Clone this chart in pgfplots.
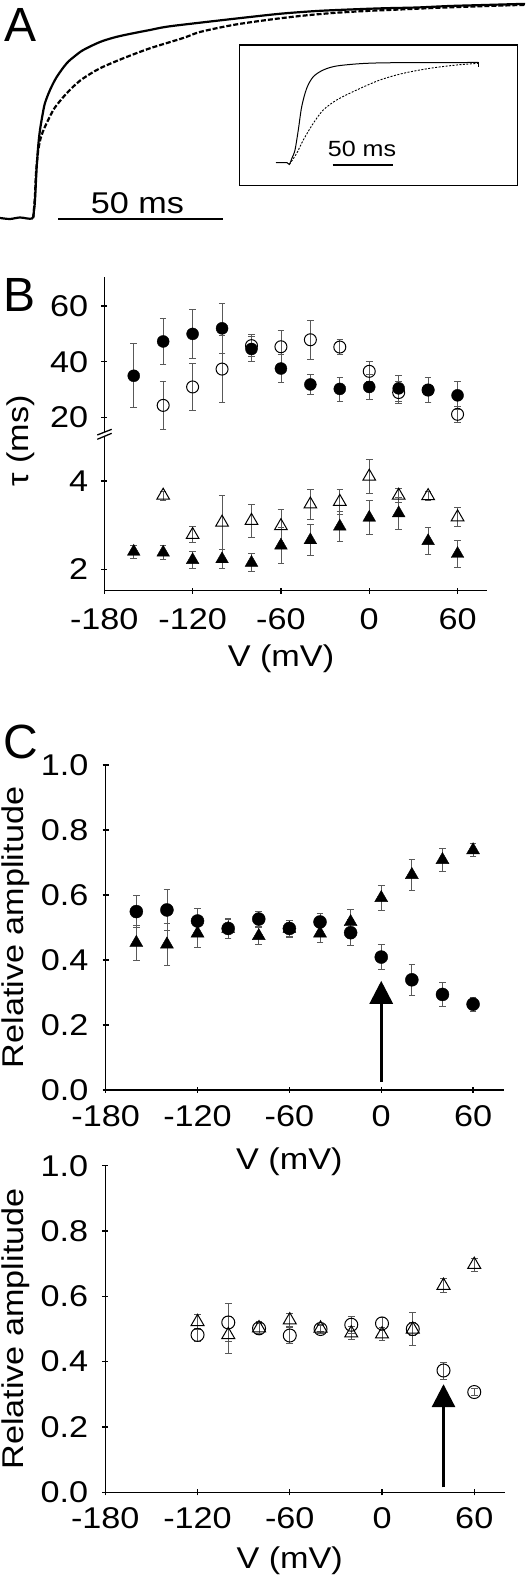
\documentclass[border=0pt]{standalone}
\usepackage{fontspec}
\setmainfont{Liberation Sans}[FakeStretch=1.14]
\newfontfamily\plainfont{Liberation Sans}
\usepackage{pgfplots}
\pgfplotsset{compat=1.18}
\usepackage{pgfplotstable}
\usetikzlibrary{arrows.meta}

\newcommand{\tickfont}{\fontsize{30}{36}\selectfont}
\newcommand{\labfont}{\fontsize{30}{36}\selectfont}
\newcommand{\panelfont}{\plainfont\fontsize{48}{56}\selectfont}

% Panel B, upper: filled circles / open circles
\pgfplotstableread{
v t e
-160 35.0 11.5
-140 47.3 8.2
-120 50.0 8.9
-100 52.0 9.0
-80 44.6 4.5
-60 37.6 5.0
-40 31.9 3.5
-20 30.3 4.3
0 31.0 4.4
20 30.5 4.5
40 29.9 4.5
60 28.0 5.0
}\Bfc
\pgfplotstableread{
v t e
-140 24.4 8.6
-120 31.0 8.5
-100 37.4 12.0
-80 45.8 4.0
-60 45.4 6.0
-40 47.9 7.0
-20 45.3 2.8
0 36.6 3.7
20 29.0 4.0
40 29.9 4.5
60 21.2 2.9
}\Boc
% Panel B, lower: filled / open triangles
\pgfplotstableread{
v t e
-160 2.40 0.15
-140 2.38 0.15
-120 2.21 0.20
-100 2.23 0.22
-80 2.15 0.20
-60 2.54 0.40
-40 2.66 0.35
-20 2.97 0.33
0 3.17 0.38
20 3.27 0.36
40 2.64 0.30
60 2.35 0.30
}\Bft
\pgfplotstableread{
v t e
-140 3.67 0.10
-120 2.78 0.18
-100 3.06 0.62
-80 3.10 0.37
-60 2.98 0.38
-40 3.47 0.33
-20 3.53 0.28
0 4.10 0.38
20 3.67 0.15
40 3.66 0.10
60 3.18 0.22
}\Bot
% Panel C, top
\pgfplotstableread{
v a e
-160 0.549 0.050
-140 0.554 0.063
-120 0.520 0.040
-100 0.497 0.030
-80 0.526 0.022
-60 0.497 0.025
-40 0.517 0.027
-20 0.484 0.040
0 0.409 0.038
20 0.339 0.047
40 0.294 0.038
60 0.264 0.022
}\Cc
\pgfplotstableread{
v a e
-160 0.453 0.053
-140 0.448 0.066
-120 0.482 0.043
-100 0.496 0.030
-80 0.474 0.025
-60 0.496 0.025
-40 0.482 0.027
-20 0.517 0.039
0 0.591 0.037
20 0.662 0.047
40 0.708 0.036
60 0.738 0.020
}\Ct
% Panel C, bottom
\pgfplotstableread{
v a e
-120 0.482 0.020
-100 0.520 0.057
-80 0.502 0.020
-60 0.480 0.025
-40 0.500 0.015
-20 0.513 0.025
0 0.517 0.020
20 0.500 0.050
40 0.373 0.026
60 0.307 0.010
}\Dc
\pgfplotstableread{
v a e
-120 0.522 0.022
-100 0.482 0.058
-80 0.503 0.015
-60 0.527 0.020
-40 0.502 0.010
-20 0.487 0.020
0 0.484 0.020
20 0.499 0.020
40 0.633 0.022
60 0.697 0.020
}\Dt

\pgfplotsset{
  base/.style={
    scale only axis, clip=false, enlargelimits=false,
    xmin=-180, xmax=80,
    tick style={line width=1.3pt, black},
    major tick length=6pt,
    tick align=outside,
    xtick={-180,-120,-60,0,60},
    xticklabels={-180,-120,-60,0,60},
    xticklabel style={anchor=north, inner sep=0pt, font=\tickfont},
    yticklabel style={anchor=east, inner sep=0pt, font=\tickfont},
  },
  noarrows/.style={axis line style={-, line width=1.3pt, black}},
  eb/.style={error bars/.cd, y dir=both, y explicit, error mark=-,
    error bar style={line width=0.8pt, black!65},
    error mark options={rotate=90, line width=0.8pt, black!65, mark size=3.3pt}},
}

\begin{document}
\begin{tikzpicture}
\useasboundingbox (0pt,0pt) rectangle (525pt,1583pt);

% ---------------- Panel A ----------------
\begin{axis}[scale only axis, width=525pt, height=230pt, at={(0pt,1353pt)}, anchor=south west,
  xmin=0, xmax=525, ymin=0, ymax=230, y dir=reverse, hide axis, clip=false]
\addplot[line width=2.2pt, black, smooth] coordinates {
(0,218) (10,219) (20,217.5) (32,218.5) (34,210) (35,200) (36.7,167) (38.3,145) (40,130)
(42.5,115) (45,103) (50,90) (56.7,77) (66.7,63.3) (75,56) (83.3,50) (100,42) (116,37)
(133,33.3) (150,30) (167,26.7) (200,22.7) (250,17) (283,13.5) (317,11) (350,9.5) (383,8.3)
(417,7.5) (450,6) (485,5) (520,4) (525,4)};
\addplot[line width=2.2pt, black, dash pattern=on 5pt off 2pt, smooth] coordinates {
(33.3,218) (35,195) (36,173) (38.3,150) (41,137) (45,126.7) (53.3,110) (60,101) (66.7,93.3)
(75,85) (83.3,78.3) (100,68.3) (123.3,58.3) (150,48.3) (183.3,38) (200,32) (233,25) (267,20)
(300,16) (333,13) (366,11) (400,9.5) (433,8) (466.7,6.7) (520,5) (525,5)};
\addplot[line width=1.2pt, black] coordinates {(58.3,219) (222.7,219)};
\node[font=\fontsize{30}{36}\selectfont, anchor=base, inner sep=0pt] at (axis cs:137.5,213.3) {50 ms};
% inset
\draw[line width=1.3pt] (axis cs:239.3,45) rectangle (axis cs:517.3,185.7);
\addplot[line width=1pt, black, smooth] coordinates {
(276,162.7) (287,162.7) (289.3,164.5) (292,158) (295,150) (298.3,130) (301.7,106.7) (306.7,88.3)
(313.3,76.7) (323.3,70) (336.7,66) (363.3,63.5) (396.7,62.7) (478.3,62.5)};
\addplot[line width=1pt, black] coordinates {(478.3,62.5) (478.3,67.5)};
\addplot[line width=0.9pt, black, dash pattern=on 2pt off 1.5pt, smooth] coordinates {
(289.3,164.5) (296.7,153.3) (303.3,140) (313.3,123.3) (323.3,110) (336.7,100) (356.7,90)
(380,80) (403.3,73.3) (430,68.3) (456.7,65) (478.3,63.3)};
\addplot[line width=1.2pt, black] coordinates {(332.7,165) (393.3,165)};
\node[font=\fontsize{22}{26}\selectfont, anchor=base, inner sep=0pt] at (axis cs:362,156.7) {50 ms};
\end{axis}

\node[font=\panelfont, anchor=base west, inner sep=0pt] at (4pt,1541pt) {A};
\node[font=\panelfont, anchor=base west, inner sep=0pt] at (3pt,1271.3pt) {B};
\node[font=\panelfont, anchor=base west, inner sep=0pt] at (3pt,824.7pt) {C};

% ---------------- Panel B upper ----------------
\begin{axis}[base, at={(104.3pt,1151pt)}, anchor=south west, width=382.7pt, height=155pt,
  axis y line=left, axis x line=none, noarrows,
  ymin=14.87, ymax=70.39, ytick={20,40,60}, yticklabels={20,40,60},
  yticklabel style={xshift=-13pt}]
\addplot[only marks, mark=*, mark size=6pt, black, eb] table[x=v, y=t, y error=e] {\Bfc};
\addplot[only marks, mark=o, mark size=6pt, black, mark options={fill=white, line width=1pt}, eb] table[x=v, y=t, y error=e] {\Boc};
\end{axis}

% ---------------- Panel B lower ----------------
\begin{axis}[base, at={(104.3pt,992.3pt)}, anchor=south west, width=382.7pt, height=154.4pt,
  axis lines=left, noarrows,
  ymin=1.516, ymax=5.01, ytick={2,4}, yticklabels={2,4},
  yticklabel style={xshift=-13pt}, xticklabel style={yshift=-15pt}]
\addplot[only marks, mark=triangle*, mark size=7.3pt, black, eb] table[x=v, y=t, y error=e] {\Bft};
\addplot[only marks, mark=triangle, mark size=7.3pt, black, mark options={fill=white, line width=1pt}, eb] table[x=v, y=t, y error=e] {\Bot};
\end{axis}

\draw[line width=1.3pt] (97.3pt,1148pt) -- (111.7pt,1153.7pt);
\draw[line width=1.3pt] (97.3pt,1143.7pt) -- (111.7pt,1149.7pt);
\node[font=\labfont, anchor=base, inner sep=0pt] at (281pt,916.3pt) {V (mV)};
\node[font=\labfont, rotate=90, anchor=center, inner sep=0pt] at (21pt,1142pt) {τ (ms)};

% ---------------- Panel C top ----------------
\begin{axis}[base, at={(105.7pt,493pt)}, anchor=south west, width=398pt, height=325pt,
  axis lines=left, noarrows,
  ymin=0, ymax=1, ytick={0,0.2,0.4,0.6,0.8,1.0}, yticklabels={0.0,0.2,0.4,0.6,0.8,1.0},
  yticklabel style={xshift=-14pt}, xticklabel style={yshift=-12pt}]
\addplot[only marks, mark=triangle*, mark size=7.5pt, black, eb] table[x=v, y=a, y error=e] {\Ct};
\addplot[only marks, mark=*, mark size=6.5pt, black, eb] table[x=v, y=a, y error=e] {\Cc};
\draw[line width=3pt, -{Triangle[length=23pt, width=23pt]}] (axis cs:0,0.026) -- (axis cs:0,0.336);
\end{axis}
\node[font=\labfont, anchor=base, inner sep=0pt] at (289.4pt,413pt) {V (mV)};
\node[font=\labfont, rotate=90, anchor=center, inner sep=0pt] at (16pt,655.5pt) {Relative amplitude};

% ---------------- Panel C bottom ----------------
\begin{axis}[base, at={(105.3pt,90.7pt)}, anchor=south west, width=399.7pt, height=326.6pt,
  axis lines=left, noarrows,
  ymin=0, ymax=1, ytick={0,0.2,0.4,0.6,0.8,1.0}, yticklabels={0.0,0.2,0.4,0.6,0.8,1.0},
  yticklabel style={xshift=-14pt}, xticklabel style={yshift=-12pt}]
\addplot[only marks, mark=triangle, mark size=7.5pt, black, mark options={fill=white, line width=1pt}, eb] table[x=v, y=a, y error=e] {\Dt};
\addplot[only marks, mark=o, mark size=6.5pt, black, mark options={fill=white, line width=1pt}, eb] table[x=v, y=a, y error=e] {\Dc};
\draw[line width=3pt, -{Triangle[length=23pt, width=23pt]}] (axis cs:40,0.015) -- (axis cs:40,0.331);
\end{axis}
\node[font=\labfont, anchor=base, inner sep=0pt] at (289.7pt,14.7pt) {V (mV)};
\node[font=\labfont, rotate=90, anchor=center, inner sep=0pt] at (16pt,254pt) {Relative amplitude};
\end{tikzpicture}
\end{document}
